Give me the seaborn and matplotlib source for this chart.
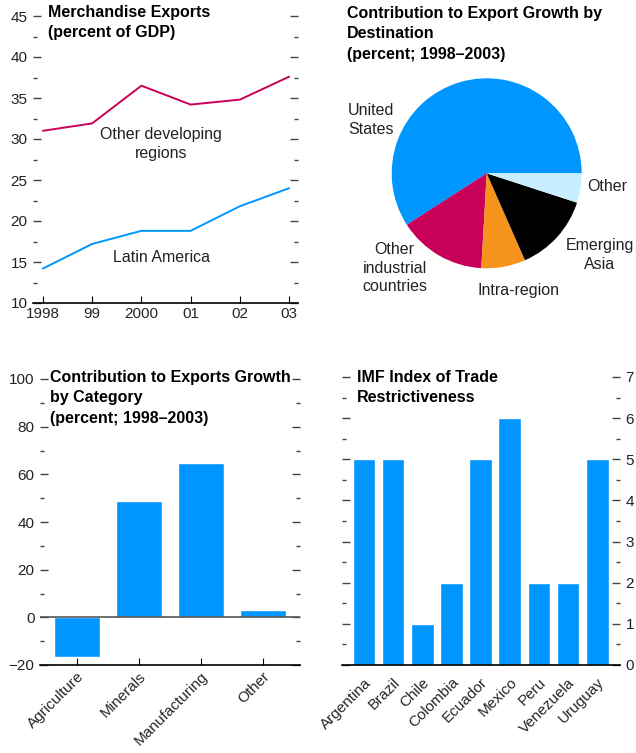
import seaborn as sns
import pandas as pd
import matplotlib.pyplot as plt
from matplotlib import font_manager
from matplotlib.ticker import MultipleLocator

# top left: merchandise exports (percent of GDP)
years = [1998, 1999, 2000, 2001, 2002, 2003]
year_labels = ["1998", "99", "2000", "01", "02", "03"]
other_developing = [31.0, 31.9, 36.5, 34.2, 34.8, 37.6]
latin_america = [14.2, 17.2, 18.8, 18.8, 21.8, 24.0]

# top right: contribution to export growth by destination
destinations = ["United\nStates", "Other\nindustrial\ncountries", "Intra-region",
                "Emerging\nAsia", "Other"]
destination_share = [59.1, 15.0, 7.5, 13.4, 5.0]
destination_colors = ["#0096ff", "#c8005a", "#f7941d", "#000000", "#c8efff"]

# bottom left: contribution by category
categories = ["Agriculture", "Minerals", "Manufacturing", "Other"]
category_contrib = [-16.8, 49.0, 64.8, 3.2]

# bottom right: IMF trade restrictiveness index
countries = ["Argentina", "Brazil", "Chile", "Colombia", "Ecuador", "Mexico",
             "Peru", "Venezuela", "Uruguay"]
restrictiveness = [5, 5, 1, 2, 5, 6, 2, 2, 5]

BLUE = "#0096ff"
MAGENTA = "#c8005a"
TICK_COL = "#444444"

sns.set_style("white")
names = {f.name for f in font_manager.fontManager.ttflist}
if "Liberation Sans Narrow" in names:
    plt.rcParams["font.family"] = ["Liberation Sans Narrow", "DejaVu Sans"]
    TS, LS, AS = 13.5, 12.5, 13
else:
    plt.rcParams["font.family"] = ["Liberation Sans", "DejaVu Sans"]
    TS, LS, AS = 11.5, 11, 11.5
plt.rcParams["text.color"] = "#222222"

W, H = 636, 753
fig = plt.figure(figsize=(W / 100, H / 100), dpi=100)


def px_axes(left, top, right, bottom):
    return fig.add_axes([left / W, 1 - bottom / H, (right - left) / W, (bottom - top) / H])


def title(x, y, txt):
    fig.text(x / W, 1 - y / H, txt, ha="left", va="top", fontsize=TS,
             fontweight="bold", color="black", linespacing=1.45)


def style_axes(ax):
    for s in ["left", "right", "top"]:
        ax.spines[s].set_visible(False)
    ax.spines["bottom"].set_color("black")
    ax.spines["bottom"].set_linewidth(1.2)
    ax.tick_params(axis="y", which="both", direction="in", left=True, right=True,
                   color=TICK_COL, width=1, labelsize=LS, pad=4, labelcolor="#222222")
    ax.tick_params(axis="y", which="major", length=6)
    ax.tick_params(axis="y", which="minor", length=3)


# ---- top left: lines
ax1 = px_axes(33, 16, 298, 303)
df_lines = pd.DataFrame({"year": years * 2,
                         "value": other_developing + latin_america,
                         "series": ["Other developing"] * 6 + ["Latin America"] * 6})
sns.lineplot(data=df_lines, x="year", y="value", hue="series",
             palette={"Other developing": MAGENTA, "Latin America": BLUE},
             linewidth=1.4, legend=False, ax=ax1)
ax1.set_xlim(1997.8, 2003.18)
ax1.set_ylim(10, 45)
ax1.yaxis.set_major_locator(MultipleLocator(5))
ax1.yaxis.set_minor_locator(MultipleLocator(2.5))
ax1.set_xticks(years)
ax1.set_xticklabels(year_labels)
style_axes(ax1)
ax1.tick_params(axis="x", direction="in", bottom=True, length=5, color="black",
                labelsize=LS, pad=3)
ax1.set_xlabel("")
ax1.set_ylabel("")
ax1.text(2000.4, 29.4, "Other developing\nregions", ha="center", va="center",
         fontsize=AS, linespacing=1.3)
ax1.text(2000.4, 15.6, "Latin America", ha="center", va="center", fontsize=AS)
title(48, 5, "Merchandise Exports\n(percent of GDP)")

# ---- top right: pie
ax2 = px_axes(391.7, 78.3, 581.7, 268.3)
ax2.pie(destination_share, colors=destination_colors, startangle=0,
        counterclock=True, radius=1, wedgeprops={"linewidth": 0})
ax2.set_xlim(-1, 1)
ax2.set_ylim(-1, 1)
label_pos = [(-1.46, 0.56, "left"), (-0.97, -1.0, "center"), (0.33, -1.23, "center"),
             (1.19, -0.86, "center"), (1.06, -0.14, "left")]
for (lx, ly, ha), name in zip(label_pos, destinations):
    ax2.text(lx, ly, name, ha=ha, va="center", fontsize=AS, linespacing=1.3)
title(347, 6, "Contribution to Export Growth by\nDestination\n(percent; 1998\u20132003)")

# ---- bottom left: bars by category
ax3 = px_axes(40, 379, 300, 665)
sns.barplot(x=categories, y=category_contrib, color=BLUE, saturation=1,
            width=0.75, ax=ax3)
ax3.set_xlim(-0.6, 3.6)
ax3.set_ylim(-20, 100)
ax3.yaxis.set_major_locator(MultipleLocator(20))
ax3.yaxis.set_minor_locator(MultipleLocator(10))
ax3.axhline(0, color="#555555", lw=1.2, zorder=3)
style_axes(ax3)
ax3.tick_params(axis="x", direction="in", bottom=True, length=5, color="black",
                labelsize=LS, pad=3)
plt.setp(ax3.get_xticklabels(), rotation=45, ha="right", rotation_mode="anchor")
ax3.set_xlabel("")
ax3.set_ylabel("")
title(50, 370, "Contribution to Exports Growth\nby Category\n(percent; 1998\u20132003)")

# ---- bottom right: restrictiveness
ax4 = px_axes(342, 377, 620, 665)
sns.barplot(x=countries, y=restrictiveness, color=BLUE, saturation=1,
            width=0.78, ax=ax4)
ax4.set_xlim(-0.75, 8.78)
ax4.set_ylim(0, 7)
ax4.yaxis.set_major_locator(MultipleLocator(1))
ax4.yaxis.set_minor_locator(MultipleLocator(0.5))
style_axes(ax4)
ax4.tick_params(axis="y", labelleft=False, labelright=True)
ax4.tick_params(axis="x", bottom=False, labelsize=LS, pad=4)
plt.setp(ax4.get_xticklabels(), rotation=45, ha="right", rotation_mode="anchor")
ax4.set_xlabel("")
ax4.set_ylabel("")
title(357, 370, "IMF Index of Trade\nRestrictiveness")

fig.savefig("out.png", dpi=100)
